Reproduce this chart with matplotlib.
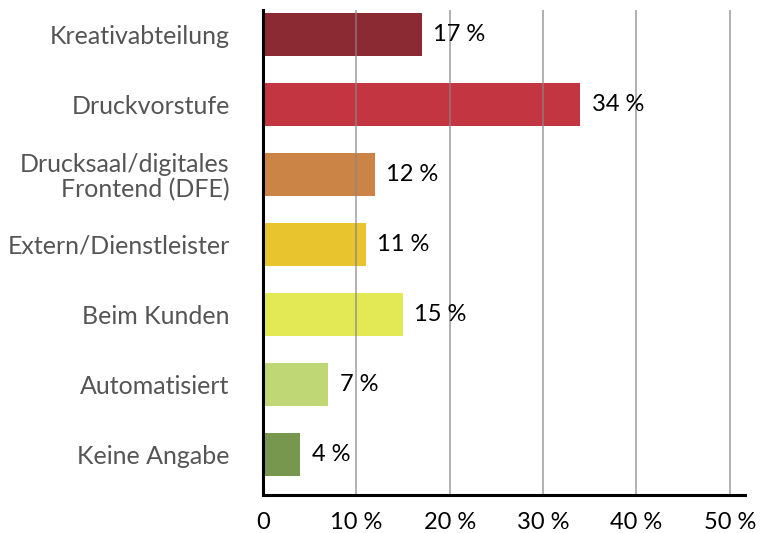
import matplotlib
matplotlib.use("Agg")
import matplotlib.pyplot as plt

# data
categories = ["Kreativabteilung", "Druckvorstufe", "Drucksaal/digitales\nFrontend (DFE)",
              "Extern/Dienstleister", "Beim Kunden", "Automatisiert", "Keine Angabe"]
values = [17, 34, 12, 11, 15, 7, 4]
colors = ["#8b2a33", "#c43542", "#cb8446", "#e8c42e", "#e3e855", "#bfd774", "#77974f"]
xticks = [0, 10, 20, 30, 40, 50]
xticklabels = ["0", "10 %", "20 %", "30 %", "40 %", "50 %"]

plt.rcParams['font.family'] = ['Lato', 'DejaVu Sans']

fig = plt.figure(figsize=(7.6, 5.33), dpi=100)
ax = fig.add_axes([0.346, 0.0713, 0.634, 0.9099])

ypos = list(range(len(categories)))
ax.barh(ypos, values, height=0.62, color=colors, zorder=1)

for y, v in zip(ypos, values):
    ax.text(v + 1.2, y, "%d %%" % v, va="center", ha="left", fontsize=17, color="black", zorder=4)

ax.set_xlim(0, 51.6)
ax.set_ylim(6.58, -0.35)
ax.set_yticks(ypos)
ax.set_yticklabels(categories, fontsize=18, color="#555555", linespacing=1.1)
ax.set_xticks(xticks)
ax.set_xticklabels(xticklabels, fontsize=17, color="black")
ax.tick_params(axis="both", length=0)
ax.tick_params(axis="y", pad=24)
ax.tick_params(axis="x", pad=12)

# grid drawn over the bars
for x in xticks[1:]:
    ax.axvline(x, color="#8a8488", alpha=0.75, lw=1.2, zorder=3)

for s in ["top", "right"]:
    ax.spines[s].set_visible(False)
for s in ["left", "bottom"]:
    ax.spines[s].set_linewidth(2.2)
    ax.spines[s].set_color("black")
    ax.spines[s].set_zorder(5)

fig.savefig("out.png", dpi=100)
